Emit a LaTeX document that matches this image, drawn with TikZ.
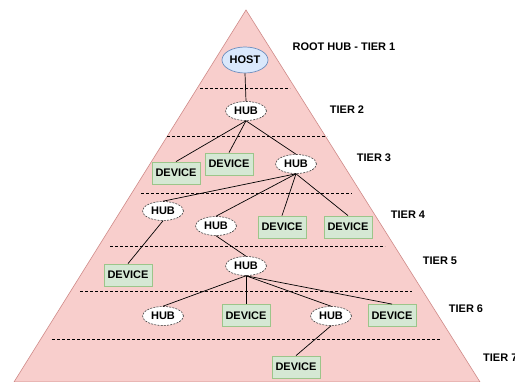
\documentclass[tikz,border=0pt]{standalone}
\usepackage{fontspec}
\setmainfont{Liberation Sans}
\usetikzlibrary{shapes.geometric}
\begin{document}
\begin{tikzpicture}[x=1pt,y=-1pt,
  every node/.style={font=\fontsize{11}{13}\selectfont\bfseries, inner sep=0pt},
  hostnode/.style={ellipse, draw=hostline, fill=hostfill, line width=0.7pt,
    minimum width=46pt, minimum height=26pt},
  hubnode/.style={ellipse, draw=black!75, fill=white, line width=0.6pt,
    dash pattern=on 2pt off 1.2pt, minimum width=41pt, minimum height=19pt},
  devnode/.style={rectangle, draw=devline, fill=devfill, line width=0.8pt,
    minimum width=48pt, minimum height=22pt},
  tierlabel/.style={text=black},
  link/.style={draw=black, line width=0.7pt},
  tierline/.style={draw=black, line width=0.9pt, dash pattern=on 3pt off 2pt}]
\definecolor{pyrfill}{HTML}{F8CECC}
\definecolor{pyrline}{HTML}{D08A88}
\definecolor{hostfill}{HTML}{DAE8FC}
\definecolor{hostline}{HTML}{6C8EBF}
\definecolor{devfill}{HTML}{D5E8D4}
\definecolor{devline}{HTML}{9CC58A}
\useasboundingbox (0,0) rectangle (515,382);
\fill[white] (0,0) rectangle (515,382);

% pyramid
\filldraw[fill=pyrfill, draw=pyrline, line width=0.6pt]
  (246,10) -- (480,382) -- (14,382) -- cycle;

% tier separators
\draw[tierline] (200,88) -- (290,88);
\draw[tierline] (167,136) -- (327,136);
\draw[tierline] (141,193) -- (352,193);
\draw[tierline] (110,246) -- (385,246);
\draw[tierline] (80,291) -- (412,291);
\draw[tierline] (52,339) -- (440,339);

% nodes
\node[hostnode] (host) at (245,60) {HOST};
\node[hubnode] (hub2) at (246,111) {HUB};
\node[devnode] (dev1) at (176,173) {DEVICE};
\node[devnode] (dev2) at (229,164) {DEVICE};
\node[hubnode] (hub3) at (296,164) {HUB};
\node[hubnode] (hub4a) at (163,211) {HUB};
\node[hubnode] (hub4b) at (216,226) {HUB};
\node[devnode] (dev4a) at (282,227) {DEVICE};
\node[devnode] (dev4b) at (348,227) {DEVICE};
\node[devnode] (dev5) at (128,275) {DEVICE};
\node[hubnode] (hub5) at (246,266) {HUB};
\node[hubnode] (hub6a) at (163,316) {HUB};
\node[devnode] (dev6a) at (246,315.5) {DEVICE};
\node[hubnode] (hub6b) at (331,316) {HUB};
\node[devnode] (dev6b) at (392,315.5) {DEVICE};
\node[devnode] (dev7) at (296,367) {DEVICE};

% tier labels
\node[tierlabel] (t1) at (344,47) {ROOT HUB - TIER 1};
\node[tierlabel] (t2) at (347,110) {TIER 2};
\node[tierlabel] (t3) at (374,158) {TIER 3};
\node[tierlabel] (t4) at (408,215) {TIER 4};
\node[tierlabel] (t5) at (440,261) {TIER 5};
\node[tierlabel] (t6) at (466,309) {TIER 6};
\node[tierlabel, anchor=west] (t7) at (483,358) {TIER 7};

% connections
\draw[link] (host.south) -- (hub2.north);
\draw[link] (hub2.south) -- (dev1.north);
\draw[link] (hub2.south) -- (dev2.north);
\draw[link] (hub2.south) -- (hub3.north);
\draw[link] (hub3.south) -- (hub4a.north);
\draw[link] (hub3.south) -- (hub4b.north);
\draw[link] (hub3.south) -- (dev4a.north);
\draw[link] (hub3.south) -- (dev4b.north);
\draw[link] (hub4a.south) -- (dev5.north);
\draw[link] (hub4b.south) -- (hub5.north);
\draw[link] (hub5.south) -- (hub6a.north);
\draw[link] (hub5.south) -- (dev6a.north);
\draw[link] (hub5.south) -- (hub6b.north);
\draw[link] (hub5.south) -- (dev6b.north);
\draw[link] (hub6b.south) -- (dev7.north);
\end{tikzpicture}
\end{document}
